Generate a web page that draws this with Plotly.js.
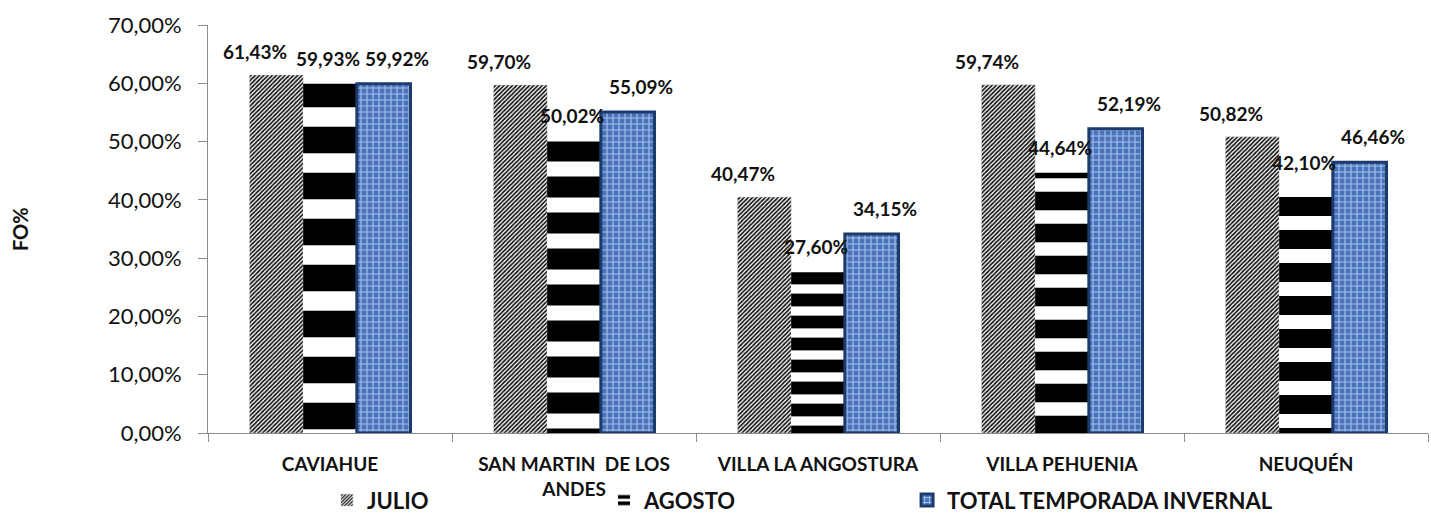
<!DOCTYPE html>
<html>
<head>
<meta charset="utf-8">
<script src="https://cdn.plot.ly/plotly-3.0.1.min.js"></script>
<style>html,body{margin:0;padding:0;background:#fff;}#chart{width:1431px;height:516px;}</style>
</head>
<body>
<div id="chart"></div>
<script>
const categories = ["CAVIAHUE", "SAN MARTIN  DE LOS<br>ANDES", "VILLA LA ANGOSTURA", "VILLA PEHUENIA", "NEUQUÉN"];
const seriesNames = ["JULIO", "AGOSTO", "TOTAL TEMPORADA INVERNAL"];
const julio = [61.43, 59.70, 40.47, 59.74, 50.82];
const agosto = [59.93, 50.02, 27.60, 44.64, 42.10];
const total = [59.92, 55.09, 34.15, 52.19, 46.46];
const yTicks = [0, 10, 20, 30, 40, 50, 60, 70];

const fmt = v => v.toFixed(2).replace('.', ',') + '%';
const FONT = 'Lato, "Open Sans", sans-serif';

const traces = [
  {
    type: 'bar', name: seriesNames[0], x: categories, y: julio, legend: 'legend',
    marker: {color: '#ffffff', line: {width: 0.5, color: '#d0d0d0'},
      pattern: {shape: '/', fgcolor: '#111111', bgcolor: '#ffffff', size: 3, solidity: 0.55}},
    hoverinfo: 'none'
  },
  {
    type: 'bar', name: seriesNames[1], x: categories, y: agosto, legend: 'legend2',
    marker: {color: '#ffffff', line: {width: 0},
      pattern: {shape: '-', fgcolor: '#000000', bgcolor: '#ffffff', size: [46, 36, 22, 32, 33], solidity: 0.58}},
    hoverinfo: 'none'
  },
  {
    type: 'bar', name: seriesNames[2], x: categories, y: total, legend: 'legend3',
    marker: {color: '#4f79c0', line: {width: 3, color: '#1c3a6b'},
      pattern: {shape: '+', fgcolor: '#a3c0ec', bgcolor: '#4a73ba', size: 6, solidity: 0.35}},
    hoverinfo: 'none'
  }
];

const shifts = [[-22, 10], [-2, 12], [14, 12]];
const annotations = [];
[julio, agosto, total].forEach((arr, s) => {
  arr.forEach((v, i) => {
    annotations.push({
      x: categories[i], y: v, xref: 'x', yref: 'y',
      text: fmt(v), showarrow: false,
      xshift: (s - 1) * 53 + shifts[s][0], yshift: shifts[s][1],
      yanchor: 'bottom', xanchor: 'center',
      font: {family: FONT, size: 19, color: '#111', weight: 'bold'}
    });
  });
});
annotations.push({
  text: 'FO%', xref: 'paper', yref: 'paper', x: -0.154, y: 0.5,
  textangle: -90, showarrow: false, xanchor: 'center', yanchor: 'middle',
  font: {family: FONT, size: 20, color: '#111', weight: 'bold'}
});

const legendBase = {
  orientation: 'h', xanchor: 'left', y: -0.165, yanchor: 'middle',
  bgcolor: 'rgba(0,0,0,0)', borderwidth: 0,
  font: {family: FONT, size: 22, color: '#111', weight: 'bold'},
  itemwidth: 30
};

const layout = {
  width: 1431, height: 516,
  margin: {l: 208, r: 3, t: 25, b: 83, autoexpand: false},
  paper_bgcolor: '#ffffff', plot_bgcolor: '#ffffff',
  bargap: 0.34, bargroupgap: 0,
  barmode: 'group',
  showlegend: true,
  legend: Object.assign({}, legendBase, {x: 0.0975}),
  legend2: Object.assign({}, legendBase, {x: 0.3246}),
  legend3: Object.assign({}, legendBase, {x: 0.573}),
  xaxis: {
    type: 'category', showline: true, linecolor: '#8c8c8c', linewidth: 1,
    ticks: 'outside', tickson: 'boundaries', ticklen: 8, tickcolor: '#8c8c8c',
    ticklabelstandoff: 14, automargin: false,
    tickfont: {family: FONT, size: 19, color: '#111', weight: 'bold'},
    showgrid: false, zeroline: false, fixedrange: true
  },
  yaxis: {
    range: [0, 70], tickvals: yTicks, ticktext: yTicks.map(fmt),
    showline: true, linecolor: '#8c8c8c', linewidth: 1,
    ticks: 'outside', ticklen: 9, tickcolor: '#8c8c8c',
    ticklabelstandoff: 12, automargin: false,
    tickfont: {family: FONT, size: 22, color: '#111'},
    showgrid: false, zeroline: false, fixedrange: true
  },
  annotations: annotations
};

Plotly.newPlot('chart', traces, layout, {displayModeBar: false, staticPlot: true});
</script>
</body>
</html>
